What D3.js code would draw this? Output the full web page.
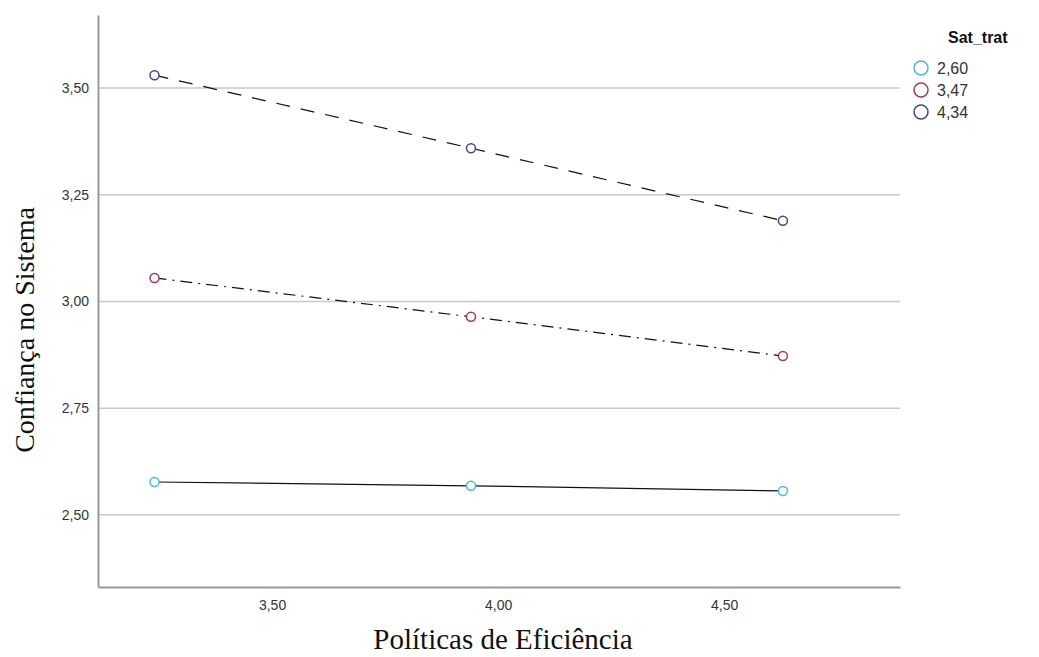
<!DOCTYPE html>
<html>
<head>
<meta charset="utf-8">
<script src="https://cdn.jsdelivr.net/npm/d3@7"></script>
<style>
  body { margin: 0; background: #fff; }
  .tick text { font-family: "Liberation Sans", Arial, sans-serif; font-size: 14px; fill: #333; }
</style>
</head>
<body>
<div id="chart"></div>
<script>
// x values: Políticas de Eficiência (mean -1SD, mean, +1SD)
var xValues = [3.24, 3.94, 4.63];

// series: Sat_trat levels
var groups = ['2,60', '3,47', '4,34'];
var lowValues = [2.577, 2.568, 2.556];
var midValues = [3.055, 2.964, 2.872];
var highValues = [3.53, 3.359, 3.189];

var xTicks = [3.5, 4.0, 4.5];
var yTicks = [2.5, 2.75, 3.0, 3.25, 3.5];

var colors = ['#4bb6e6', '#a5375f', '#3a4a8c'];
var dashes = [null, '12,6,2,6', '14,11'];

var width = 1039, height = 657;
var margin = { top: 15, right: 139, bottom: 70, left: 98 };

var svg = d3.select('#chart')
  .append('svg')
  .attr('width', width)
  .attr('height', height);

var xScale = d3.scaleLinear()
  .domain([3.115, 4.889])
  .range([margin.left, width - margin.right]);

var yScale = d3.scaleLinear()
  .domain([2.331, 3.671])
  .range([height - margin.bottom, margin.top]);

function fmt(d) {
  return d3.format('.2f')(d).replace('.', ',');
}

// gridlines
svg.append('g')
  .selectAll('line')
  .data(yTicks)
  .enter()
  .append('line')
  .attr('x1', margin.left)
  .attr('x2', width - margin.right)
  .attr('y1', function (d) { return yScale(d); })
  .attr('y2', function (d) { return yScale(d); })
  .attr('stroke', '#c8c8c8')
  .attr('stroke-width', 1.5);

// axes
var yAxis = svg.append('g')
  .attr('transform', 'translate(' + margin.left + ',0)')
  .call(d3.axisLeft(yScale).tickValues(yTicks).tickFormat(fmt).tickSize(0).tickPadding(9));
yAxis.select('.domain').attr('stroke', '#999').attr('stroke-width', 2);

var xAxis = svg.append('g')
  .attr('transform', 'translate(0,' + (height - margin.bottom) + ')')
  .call(d3.axisBottom(xScale).tickValues(xTicks).tickFormat(fmt).tickSize(0).tickPadding(13));
xAxis.select('.domain').attr('stroke', '#999').attr('stroke-width', 2);

// axis titles
svg.append('text')
  .attr('x', 503)
  .attr('y', 649)
  .attr('text-anchor', 'middle')
  .style('font-family', '"Liberation Serif", "Times New Roman", serif')
  .style('font-size', '29px')
  .style('fill', '#111')
  .text('Políticas de Eficiência');

svg.append('text')
  .attr('transform', 'translate(34,' + 330 + ') rotate(-90)')
  .attr('text-anchor', 'middle')
  .style('font-family', '"Liberation Serif", "Times New Roman", serif')
  .style('font-size', '28px')
  .style('fill', '#111')
  .text('Confiança no Sistema');

// series
var series = [lowValues, midValues, highValues].map(function (vals, i) {
  return {
    name: groups[i],
    values: vals.map(function (v, j) { return { x: xValues[j], y: v }; })
  };
});

var line = d3.line()
  .x(function (d) { return xScale(d.x); })
  .y(function (d) { return yScale(d.y); });

svg.selectAll('.series-line')
  .data(series)
  .enter()
  .append('path')
  .attr('class', 'series-line')
  .attr('d', function (d) { return line(d.values); })
  .attr('fill', 'none')
  .attr('stroke', '#111')
  .attr('stroke-width', 1.2)
  .attr('stroke-dasharray', function (d, i) { return dashes[i]; });

var dots = svg.selectAll('.dots')
  .data(series)
  .enter()
  .append('g')
  .attr('stroke', function (d, i) { return colors[i]; });

dots.selectAll('circle')
  .data(function (d) { return d.values; })
  .enter()
  .append('circle')
  .attr('cx', function (d) { return xScale(d.x); })
  .attr('cy', function (d) { return yScale(d.y); })
  .attr('r', 4.5)
  .attr('fill', 'white')
  .attr('stroke-width', 1.5);

// legend
var legend = svg.append('g');
legend.append('text')
  .attr('x', 948)
  .attr('y', 43)
  .style('font-family', '"Liberation Sans", Arial, sans-serif')
  .style('font-weight', 'bold')
  .style('font-size', '16px')
  .style('fill', '#111')
  .text('Sat_trat');

legend.selectAll('circle')
  .data(groups)
  .enter()
  .append('circle')
  .attr('cx', 921)
  .attr('cy', function (d, i) { return 68 + i * 22; })
  .attr('r', 7)
  .attr('fill', 'white')
  .attr('stroke', function (d, i) { return colors[i]; })
  .attr('stroke-width', 1.5);

legend.selectAll('.legend-label')
  .data(groups)
  .enter()
  .append('text')
  .attr('class', 'legend-label')
  .attr('x', 937)
  .attr('y', function (d, i) { return 68 + i * 22; })
  .attr('dy', '0.35em')
  .style('font-family', '"Liberation Sans", Arial, sans-serif')
  .style('font-size', '16px')
  .style('fill', '#333')
  .text(function (d) { return d; });
</script>
</body>
</html>
